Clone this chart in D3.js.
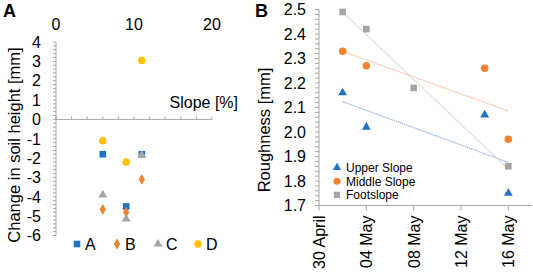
<!DOCTYPE html>
<html><head><meta charset="utf-8">
<script src="https://cdn.jsdelivr.net/npm/d3@7"></script>
<style>
html,body{margin:0;padding:0;background:#fff;}
svg{display:block;font-family:"Liberation Sans",Arial,sans-serif;}
</style></head>
<body>
<svg id="c" width="533" height="274"></svg>
<script>
// ---------- Panel A data ----------
const slopeX = [6, 9, 11];
const seriesA = [-1.8, -4.5, -1.8];
const seriesB = [-4.65, -4.8, -3.1];
const seriesC = [-3.9, -5.15, -1.85];
const seriesD = [-1.1, -2.2, 3.05];
const panelANames = ["A", "B", "C", "D"];
const panelAXTicks = [0, 10, 20];
const panelAYTicks = [4, 3, 2, 1, 0, -1, -2, -3, -4, -5, -6];

// ---------- Panel B data ----------
const upperDates = ["2020-05-02", "2020-05-04", "2020-05-14", "2020-05-16"];
const upperRough = [2.16, 2.02, 2.07, 1.75];
const middleDates = ["2020-05-02", "2020-05-04", "2020-05-14", "2020-05-16"];
const middleRough = [2.33, 2.27, 2.26, 1.97];
const footDates = ["2020-05-02", "2020-05-04", "2020-05-08", "2020-05-16"];
const footRough = [2.49, 2.42, 2.18, 1.86];
const panelBNames = ["Upper Slope", "Middle Slope", "Footslope"];
const panelBXTicks = ["2020-04-30", "2020-05-04", "2020-05-08", "2020-05-12", "2020-05-16"];
const panelBYTicks = [1.7, 1.8, 1.9, 2.0, 2.1, 2.2, 2.3, 2.4, 2.5];

const colBlue = "#1f72c8", colOrange = "#f5822d", colGray = "#a5a5a5", colYellow = "#ffc000";
const axisCol = "#a6a6a6";
const svg = d3.select("#c");
const parse = d3.timeParse("%Y-%m-%d");

// ================= Panel A =================
const xA = d3.scaleLinear().domain([0, 20]).range([56, 212]);
const yA = d3.scaleLinear().domain([-6, 4]).range([235.5, 42]);
const gA = svg.append("g");

gA.append("line").attr("x1", xA(0)).attr("x2", xA(0)).attr("y1", yA(4)).attr("y2", yA(-6)).attr("stroke", axisCol);
const minorA = d3.range(-30, 21).map(i => i / 5);
gA.selectAll(".myA").data(minorA).join("line")
  .attr("x1", xA(0) - 3).attr("x2", xA(0))
  .attr("y1", d => yA(d)).attr("y2", d => yA(d)).attr("stroke", axisCol);
gA.selectAll(".ylA").data(panelAYTicks).join("text")
  .attr("x", 41).attr("y", d => yA(d)).attr("dy", "0.36em")
  .attr("text-anchor", "end").attr("font-size", 16).text(d => d);

gA.append("line").attr("x1", xA(0)).attr("x2", xA(20)).attr("y1", yA(0)).attr("y2", yA(0)).attr("stroke", axisCol);
gA.selectAll(".mxA").data(d3.range(0, 21, 2)).join("line")
  .attr("x1", d => xA(d)).attr("x2", d => xA(d))
  .attr("y1", yA(0) - 3).attr("y2", yA(0)).attr("stroke", axisCol);
gA.selectAll(".xlA").data(panelAXTicks).join("text")
  .attr("x", d => xA(d)).attr("y", 30)
  .attr("text-anchor", "middle").attr("font-size", 16).text(d => d);
gA.append("text").attr("x", 238).attr("y", 108).attr("text-anchor", "end")
  .attr("font-size", 16).text("Slope [%]");
gA.append("text").attr("transform", "translate(20,145) rotate(-90)")
  .attr("text-anchor", "middle").attr("font-size", 16.5).text("Change in soil height [mm]");
gA.append("text").attr("x", 3).attr("y", 17).attr("font-size", 18).attr("font-weight", "bold").text("A");

const symA = [d3.symbolSquare, d3.symbolDiamond, d3.symbolTriangle, d3.symbolCircle];
const colA = [colBlue, colOrange, colGray, colYellow];
const sizeA = [44, 34, 34, 44];
const valsA = [seriesA, seriesB, seriesC, seriesD];
valsA.forEach((vals, si) => {
  gA.append("g").selectAll("path").data(vals).join("path")
    .attr("transform", (d, i) => `translate(${xA(slopeX[i])},${yA(d)})`)
    .attr("d", d3.symbol().type(symA[si]).size(sizeA[si]))
    .attr("fill", colA[si]);
});
const legAX = [77, 117, 158, 198];
panelANames.forEach((n, i) => {
  gA.append("path").attr("transform", `translate(${legAX[i]},244)`)
    .attr("d", d3.symbol().type(symA[i]).size(sizeA[i])).attr("fill", colA[i]);
  gA.append("text").attr("x", legAX[i] + 8).attr("y", 244).attr("dy", "0.36em")
    .attr("font-size", 16).text(n);
});

// ================= Panel B =================
const xB = d3.scaleTime().domain([parse("2020-04-30"), parse("2020-05-18")]).range([319, 532]);
const yB = d3.scaleLinear().domain([1.7, 2.5]).range([205.5, 9.5]);
const gB = svg.append("g");

gB.append("line").attr("x1", xB.range()[0]).attr("x2", xB.range()[0]).attr("y1", yB(2.5)).attr("y2", yB(1.7)).attr("stroke", axisCol);
const minorB = d3.range(85, 126).map(i => i / 50);
gB.selectAll(".myB").data(minorB).join("line")
  .attr("x1", xB.range()[0] - 4).attr("x2", xB.range()[0])
  .attr("y1", d => yB(d)).attr("y2", d => yB(d)).attr("stroke", axisCol);
gB.selectAll(".ylB").data(panelBYTicks).join("text")
  .attr("x", 306).attr("y", d => yB(d)).attr("dy", "0.36em")
  .attr("text-anchor", "end").attr("font-size", 16).text(d => d.toFixed(1));

gB.append("line").attr("x1", xB.range()[0]).attr("x2", xB.range()[1]).attr("y1", yB(1.7)).attr("y2", yB(1.7)).attr("stroke", axisCol);
const fmt = d3.timeFormat("%d %B");
gB.selectAll(".mxB").data(panelBXTicks.map(parse)).join("line")
  .attr("x1", d => xB(d)).attr("x2", d => xB(d))
  .attr("y1", yB(1.7)).attr("y2", yB(1.7) + 5).attr("stroke", axisCol);
gB.selectAll(".xlB").data(panelBXTicks.map(parse)).join("text")
  .attr("transform", d => `translate(${xB(d) + 6},${yB(1.7) + 10}) rotate(-90)`)
  .attr("text-anchor", "end").attr("font-size", 16).text(d => fmt(d));
gB.append("text").attr("transform", "translate(270,130) rotate(-90)")
  .attr("text-anchor", "middle").attr("font-size", 16.5).text("Roughness [mm]");
gB.append("text").attr("x", 255).attr("y", 17).attr("font-size", 18).attr("font-weight", "bold").text("B");

const datesB = [upperDates, middleDates, footDates].map(a => a.map(parse));
const valsB = [upperRough, middleRough, footRough];
const colB = [colBlue, colOrange, colGray];
const lineCol = ["#8fb6e3", "#f8bf97", "#cfcfcf"];
const symB = [d3.symbolTriangle, d3.symbolCircle, d3.symbolSquare];
const sizeB = [34, 44, 44];

valsB.forEach((vals, si) => {
  const xs = datesB[si].map(d => +d), ys = vals;
  const mx = d3.mean(xs), my = d3.mean(ys);
  const sxy = d3.sum(xs.map((x, i) => (x - mx) * (ys[i] - my)));
  const sxx = d3.sum(xs.map(x => (x - mx) ** 2));
  const b = sxy / sxx, a = my - b * mx;
  const x0 = d3.min(xs), x1 = d3.max(xs);
  gB.append("line")
    .attr("x1", xB(new Date(x0))).attr("y1", yB(a + b * x0))
    .attr("x2", xB(new Date(x1))).attr("y2", yB(a + b * x1))
    .attr("stroke", lineCol[si]).attr("stroke-width", 1.1).attr("stroke-dasharray", "1.5,0.6");
});
valsB.forEach((vals, si) => {
  gB.append("g").selectAll("path").data(vals).join("path")
    .attr("transform", (d, i) => `translate(${xB(datesB[si][i])},${yB(d)})`)
    .attr("d", d3.symbol().type(symB[si]).size(sizeB[si]))
    .attr("fill", colB[si]);
});
const legBY = [167.5, 181.2, 194.9];
panelBNames.forEach((n, i) => {
  gB.append("path").attr("transform", `translate(337,${legBY[i]})`)
    .attr("d", d3.symbol().type(symB[i]).size(sizeB[i] * 0.9)).attr("fill", colB[i]);
  gB.append("text").attr("x", 346).attr("y", legBY[i]).attr("dy", "0.36em")
    .attr("font-size", 12).text(n);
});
</script>
</body></html>
